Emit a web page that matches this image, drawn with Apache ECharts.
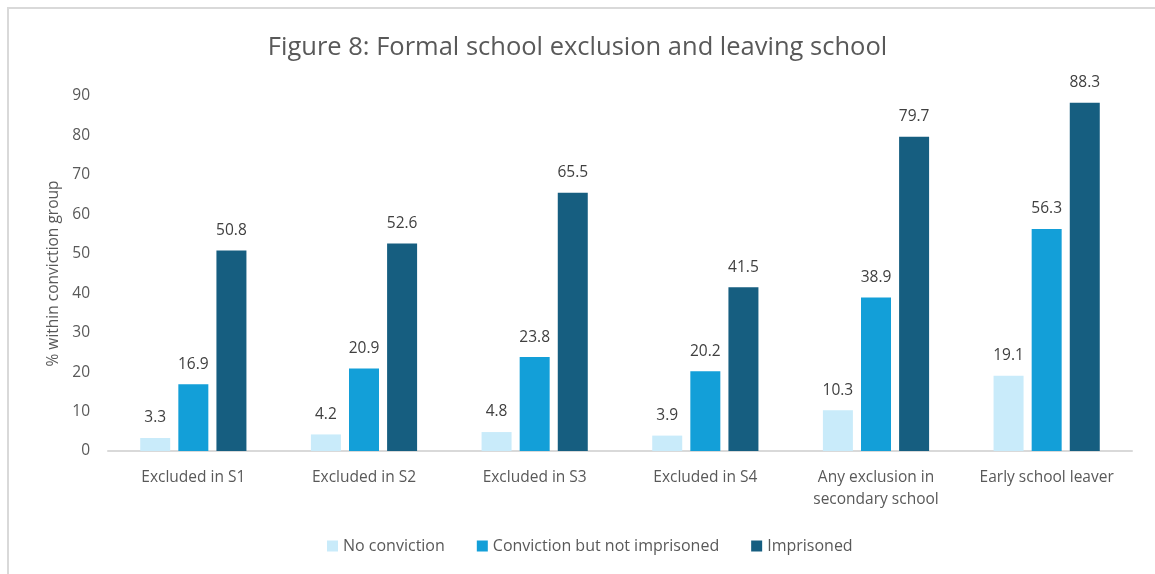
<!DOCTYPE html>
<html>
<head>
<meta charset="utf-8">
<script src="https://cdn.jsdelivr.net/npm/echarts@6/dist/echarts.min.js"></script>
<style>
  html, body { margin: 0; padding: 0; background: #fff; }
  #chart { width: 1155px; height: 574px; }
</style>
</head>
<body>
<div id="chart"></div>
<script>
var categories = ['Excluded in S1', 'Excluded in S2', 'Excluded in S3', 'Excluded in S4',
                  'Any exclusion in\nsecondary school', 'Early school leaver'];
var noConviction = [3.3, 4.2, 4.8, 3.9, 10.3, 19.1];
var convictionNotImprisoned = [16.9, 20.9, 23.8, 20.2, 38.9, 56.3];
var imprisoned = [50.8, 52.6, 65.5, 41.5, 79.7, 88.3];

var seriesNames = ['No conviction', 'Conviction but not imprisoned', 'Imprisoned'];
var seriesColors = ['#c9ebfa', '#139fd8', '#165e80'];
var seriesData = [noConviction, convictionNotImprisoned, imprisoned];

var fontFamily = '"Open Sans", "Liberation Sans", sans-serif';

var chart = echarts.init(document.getElementById('chart'), null, {renderer: 'canvas'});

var series = seriesData.map(function (d, i) {
    return {
        name: seriesNames[i],
        type: 'bar',
        data: d,
        barWidth: 30,
        barGap: '27%',
        itemStyle: { color: seriesColors[i] },
        label: {
            show: true,
            position: 'top',
            distance: 12,
            color: '#404040',
            fontSize: 15.5,
            fontFamily: fontFamily
        }
    };
});

chart.setOption({
    animation: false,
    title: {
        text: 'Figure 8: Formal school exclusion and leaving school',
        left: 'center',
        top: 30,
        textStyle: {
            color: '#595959',
            fontSize: 25.5,
            fontWeight: 'normal',
            fontFamily: fontFamily
        }
    },
    legend: {
        bottom: 15,
        left: 322,
        itemWidth: 11,
        itemHeight: 11,
        itemGap: 32,
        icon: 'rect',
        textStyle: { color: '#595959', fontSize: 16, fontFamily: fontFamily },
        data: seriesNames
    },
    grid: { left: 108, right: 23, top: 96, bottom: 123 },
    xAxis: {
        type: 'category',
        data: categories,
        axisLine: { lineStyle: { color: '#d9d9d9', width: 2 } },
        axisTick: { show: false },
        axisLabel: {
            interval: 0,
            color: '#595959',
            fontSize: 15.5,
            fontFamily: fontFamily,
            margin: 16,
            lineHeight: 22
        }
    },
    yAxis: {
        type: 'value',
        min: 0,
        max: 90,
        interval: 10,
        name: '% within conviction group',
        nameLocation: 'middle',
        nameGap: 42,
        nameTextStyle: { color: '#595959', fontSize: 15.5, fontFamily: fontFamily },
        axisLine: { show: false },
        axisTick: { show: false },
        splitLine: { show: false },
        axisLabel: { color: '#595959', fontSize: 15.5, fontFamily: fontFamily, margin: 18 }
    },
    graphic: [{
        type: 'polyline',
        shape: { points: [[8, 574], [8, 8], [1155, 8]] },
        style: { stroke: '#d9d9d9', lineWidth: 2, fill: null }
    }],
    series: series
});
</script>
</body>
</html>
